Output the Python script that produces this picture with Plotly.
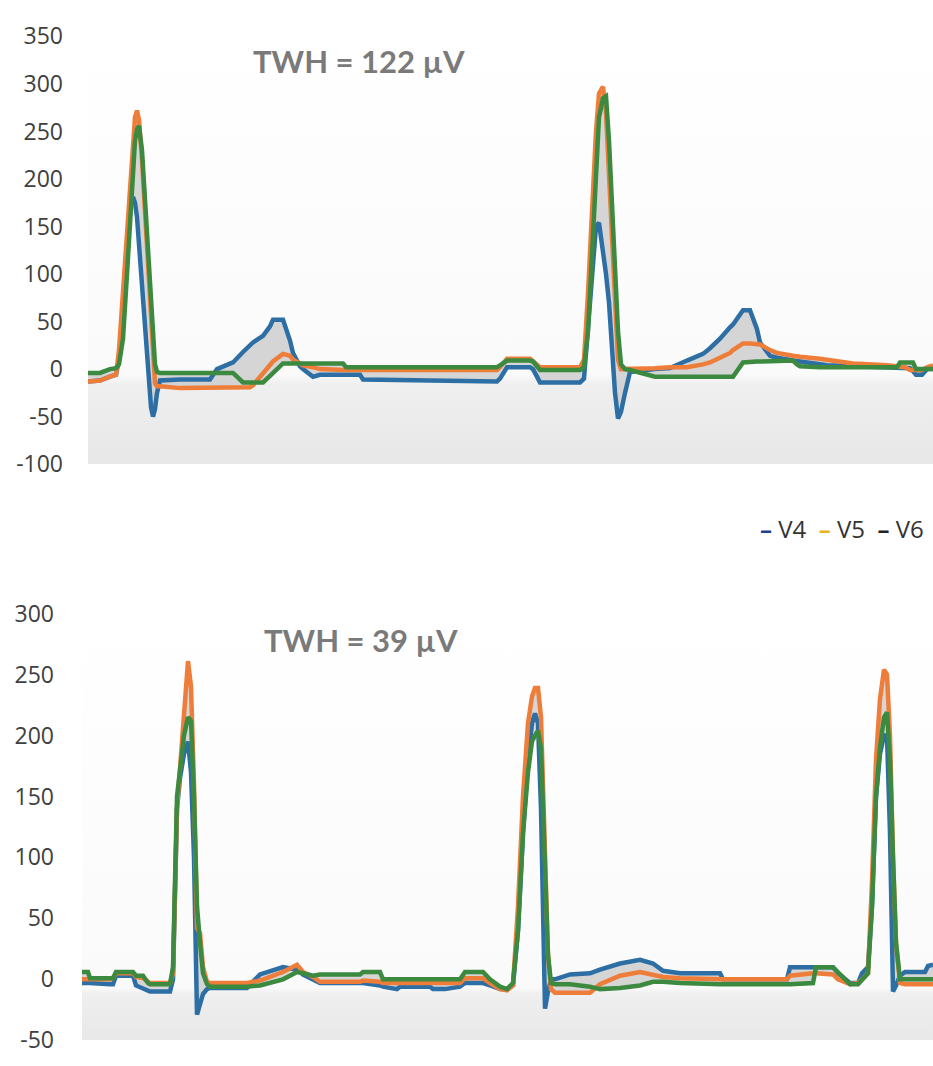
import numpy as np
import plotly.graph_objects as go

# ---------------- data (µV), sample index on a common time grid ----------------
t_top = [88, 100, 110, 116, 119, 123, 127, 130, 133, 135, 137, 139, 142, 145, 148, 151, 153, 155, 157, 160,
         180, 210, 217, 233, 243, 250, 253, 263, 270, 273, 283, 290, 293, 300, 303, 313, 320, 343, 346, 360,
         363, 497, 500, 507, 530, 533, 540, 580, 584, 588, 592, 596, 599, 603, 606, 609, 612, 615, 618, 621,
         625, 630, 655, 670, 687, 703, 710, 720, 730, 733, 743, 750, 757, 760, 770, 777, 793, 797, 800, 820,
         827, 853, 887, 897, 900, 905, 910, 913, 916, 922, 927, 933]
v4_top = [-13, -12, -8, -6, 10, 60, 130, 170, 181, 175, 160, 130, 90, 40, 0, -40, -50, -42, -25, -12,
          -11, -11, 0, 7, 18, 24, 28, 35, 45, 52, 52, 30, 17, 3, 0, -8, -6, -6, -6, -6,
          -11, -13, -10, 2, 2, 0, -14, -14, -10, 40, 100, 150, 154, 126, 100, 70, 20, -25, -52, -45,
          -25, -3, 0, 1, 9, 16, 22, 32, 44, 47, 62, 62, 42, 28, 14, 12, 9, 8, 8, 5,
          4, 3, 2, 1, 1, 1, 1, -2, -6, -6, 0, 0]
v5_top = [-13, -12, -8, -6, 20, 80, 150, 185, 230, 265, 272, 262, 220, 170, 110, 60, 20, -15, -18, -18,
          -20, -20, -20, -20, -20, -19, -17, -5, 5, 8, 16, 14, 10, 5, 4, 2, 0, -1, -1, -1,
          -1, -1, 2, 11, 11, 8, 2, 2, 10, 80, 170, 250, 290, 297, 270, 200, 130, 60, 10, 0,
          0, 0, 1, 2, 2, 5, 7, 12, 17, 20, 27, 27, 26, 26, 20, 17, 14, 14, 13, 11,
          10, 6, 4, 3, 3, 2, -1, -1, -1, -1, 2, 4]
v6_top = [-4, -4, 0, 1, 5, 32, 100, 160, 210, 240, 252, 256, 230, 180, 130, 80, 40, 5, -3, -4,
          -4, -4, -4, -4, -14, -14, -14, -14, -7, -4, 6, 6, 6, 5, 5, 5, 6, 6, 2, 2,
          2, 2, 4, 9, 9, 8, -1, -1, 2, 40, 120, 210, 265, 285, 287, 240, 170, 100, 40, 5,
          0, -1, -8, -8, -8, -8, -8, -8, -8, -8, 7, 8, 8, 8, 8, 9, 9, 5, 3, 2,
          2, 2, 2, 2, 7, 7, 7, 7, 0, 0, 0, 0]

t_bot = [82, 88, 90, 110, 113, 116, 133, 136, 143, 148, 150, 170, 173, 177, 180, 184, 188, 191, 194, 197,
         200, 203, 207, 210, 247, 260, 283, 297, 303, 313, 320, 360, 363, 380, 383, 397, 400, 430, 433, 445,
         460, 465, 483, 490, 500, 507, 513, 518, 523, 528, 532, 535, 538, 541, 544, 545, 548, 551, 555, 570,
         590, 600, 620, 640, 653, 663, 680, 720, 723, 787, 790, 813, 816, 833, 838, 850, 858, 862, 868, 872,
         876, 880, 884, 887, 890, 893, 896, 900, 905, 925, 928, 933]
v4_bot = [-3, -3, -3, -4, -4, 3, 3, -5, -8, -10, -10, -10, 0, 140, 165, 185, 195, 170, 100, -29,
          -20, -12, -8, -7, -7, 4, 10, 8, 4, 0, -3, -3, -3, -5, -6, -8, -6, -6, -8, -8,
          -6, -3, -3, -5, -8, -8, -5, 40, 120, 180, 210, 218, 210, 140, -10, -24, -10, 0, 0, 4,
          5, 8, 13, 16, 13, 7, 5, 5, 0, 0, 10, 10, 10, 10, 5, -3, -3, 5, 10, 60,
          150, 185, 200, 200, 120, -10, -5, 3, 6, 6, 11, 12]
v5_bot = [0, 0, 0, 0, 1, 5, 5, 2, 1, -2, -3, -3, 5, 140, 175, 220, 261, 240, 160, 42,
          38, 10, -2, -3, -3, -1, 6, 12, 6, 2, -2, -2, -1, -2, -3, -3, -3, -3, -3, -3,
          -3, 1, 1, -3, -8, -9, -5, 60, 150, 210, 232, 239, 239, 215, 120, 80, 20, -8, -11, -11,
          -11, -4, 3, 6, 4, 2, 1, 0, 0, 0, 3, 5, 5, 4, 0, -4, -3, 0, 5, 80,
          180, 230, 254, 250, 200, 100, 30, -3, -4, -4, -4, -4]
v6_bot = [6, 6, 1, 1, 1, 6, 6, 3, 3, -3, -4, -4, 10, 150, 170, 200, 215, 212, 150, 60,
          30, 5, -4, -6, -6, -5, 0, 6, 5, 3, 4, 4, 6, 6, 0, 0, 0, 0, 0, 0,
          0, 6, 6, 0, -6, -8, -3, 40, 120, 170, 195, 200, 204, 190, 110, 80, 20, -3, -4, -4,
          -6, -8, -7, -5, -2, -2, -3, -4, -4, -4, -4, -3, 10, 10, 6, -4, -4, 0, 5, 60,
          150, 190, 215, 219, 180, 100, 30, 0, 0, 0, 0, 0]

series_names = ["V4", "V5", "V6"]
line_colors = ["#2d6fa5", "#ef7d3a", "#3b8a3f"]
titles = ["TWH = 122 µV", "TWH = 39 µV"]
y_ranges = [[-100, 350], [-50, 300]]
y_ticks = [list(range(-100, 351, 50)), list(range(-50, 301, 50))]
legend_colors = ["#1f3f8f", "#e6b422", "#222222"]

for t, a, b, c in [(t_top, v4_top, v5_top, v6_top), (t_bot, v4_bot, v5_bot, v6_bot)]:
    assert len(t) == len(a) == len(b) == len(c), (len(t), len(a), len(b), len(c))

# ---------------- figure ----------------
W, H = 933, 1066
fig = go.Figure()

panels = [
    dict(t=t_top, vals=[v4_top, v5_top, v6_top], xa="x", ya="y"),
    dict(t=t_bot, vals=[v4_bot, v5_bot, v6_bot], xa="x2", ya="y2"),
]

for i, p in enumerate(panels):
    t = np.array(p["t"], dtype=float)
    arr = np.array(p["vals"], dtype=float)
    lo, hi = arr.min(axis=0), arr.max(axis=0)
    y0, y1 = y_ranges[i]
    zero_frac = (0 - y0) / (y1 - y0)
    # background gradient of plot area
    fig.add_trace(go.Scatter(
        x=[t[0], t[-1], t[-1], t[0], t[0]], y=[y0, y0, y1, y1, y0],
        fill="toself", mode="lines", line=dict(width=0),
        fillgradient=dict(type="vertical", start=y0, stop=y1,
                          colorscale=[[0, "#e6e6e6"], [zero_frac * 0.95, "#efefef"],
                                      [zero_frac * 1.05, "#fafafa"], [1, "#ffffff"]]),
        hoverinfo="skip", showlegend=False, xaxis=p["xa"], yaxis=p["ya"]))
    # spread between leads
    fig.add_trace(go.Scatter(x=t, y=lo, mode="lines", line=dict(width=0),
                             hoverinfo="skip", showlegend=False, xaxis=p["xa"], yaxis=p["ya"]))
    fig.add_trace(go.Scatter(x=t, y=hi, mode="lines", line=dict(width=0), fill="tonexty",
                             fillcolor="rgba(200,200,200,0.75)",
                             hoverinfo="skip", showlegend=False, xaxis=p["xa"], yaxis=p["ya"]))
    for name, v, col in zip(series_names, p["vals"], line_colors):
        fig.add_trace(go.Scatter(x=t, y=v, mode="lines", name=name,
                                 line=dict(color=col, width=4.5, shape="linear"),
                                 showlegend=False, xaxis=p["xa"], yaxis=p["ya"]))

tick_font = dict(family="Open Sans", size=23, color="#404040")
fig.update_layout(
    width=W, height=H, margin=dict(l=0, r=0, t=0, b=0),
    paper_bgcolor="white", plot_bgcolor="white",
    xaxis=dict(domain=[88 / W, 1], range=[t_top[0], t_top[-1]], visible=False),
    yaxis=dict(domain=[1 - 461 / H, 1 - 20 / H], range=y_ranges[0], tickvals=y_ticks[0],
               ticktext=[str(v) for v in y_ticks[0]],
               showgrid=False, zeroline=False, showline=False, tickfont=tick_font,
               ticks="", ticklabelstandoff=24),
    xaxis2=dict(domain=[82 / W, 1], range=[t_bot[0], t_bot[-1]], visible=False, anchor="y2"),
    yaxis2=dict(domain=[1 - 1055 / H, 1 - 615 / H], range=y_ranges[1], tickvals=y_ticks[1],
                ticktext=[str(v) for v in y_ticks[1]],
                showgrid=False, zeroline=False, showline=False, tickfont=tick_font,
                ticks="", ticklabelstandoff=27, anchor="x2"),
)

title_font = dict(family="Lato", size=31, color="#7a7a7a")
fig.add_annotation(text="<b>" + titles[0] + "</b>", xref="paper", yref="paper",
                   x=359 / W, y=1 - 45 / H, showarrow=False, font=title_font,
                   xanchor="center", yanchor="middle")
fig.add_annotation(text="<b>" + titles[1] + "</b>", xref="paper", yref="paper",
                   x=361 / W, y=1 - 642 / H, showarrow=False, font=title_font,
                   xanchor="center", yanchor="middle")

legend_text = "  ".join(
    f"<span style='color:{c}'><b>–</b></span> {n}" for n, c in zip(series_names, legend_colors))
fig.add_annotation(text=legend_text, xref="paper", yref="paper",
                   x=926 / W, y=1 - 527 / H, showarrow=False,
                   font=dict(family="Open Sans", size=24, color="#333333"),
                   xanchor="right", yanchor="middle")

fig.write_html("out.html")
